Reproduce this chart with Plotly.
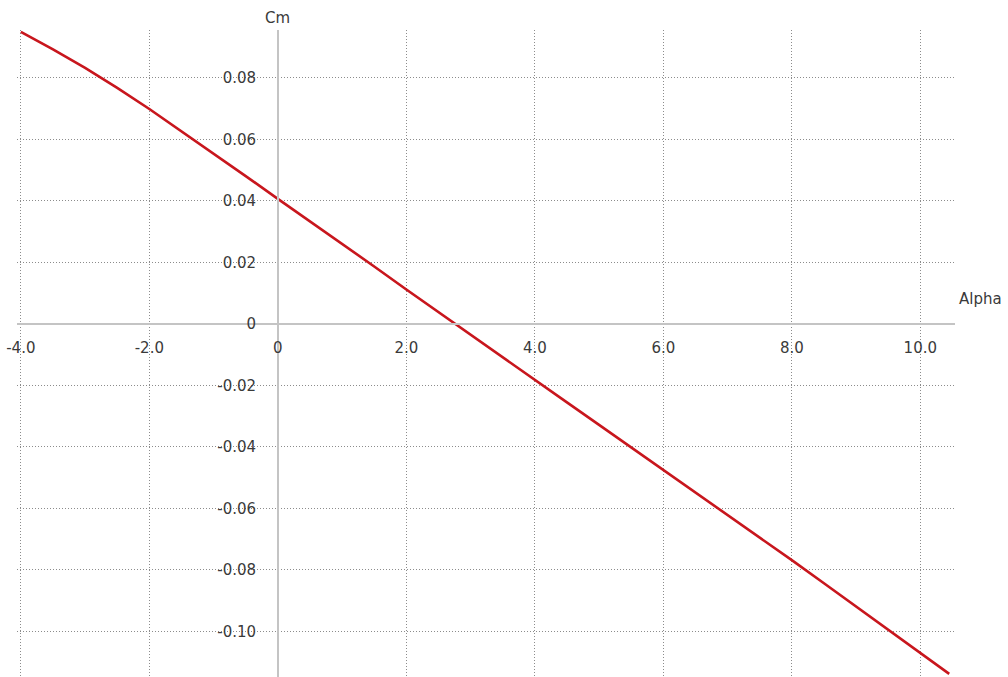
import plotly.graph_objects as go

alpha = [-4.0, -3.5, -3.0, -2.5, -2.0, -1.5, -1.0, -0.5, 0.0, 0.5, 1.0, 1.5, 2.0, 2.5,
         3.0, 3.5, 4.0, 4.5, 5.0, 5.5, 6.0, 6.5, 7.0, 7.5, 8.0, 8.5, 9.0, 9.5, 10.0, 10.45]
cm = [0.0950, 0.0893, 0.0833, 0.0768, 0.0699, 0.0627, 0.0554, 0.0481, 0.0407, 0.0334,
      0.0261, 0.0187, 0.0112, 0.0038, -0.0036, -0.0110, -0.0182, -0.0255, -0.0328, -0.0401,
      -0.0475, -0.0548, -0.0621, -0.0695, -0.0768, -0.0843, -0.0918, -0.0993, -0.1068, -0.1138]

x_ticks = [-4, -2, 0, 2, 4, 6, 8, 10]
x_labels = ["-4.0", "-2.0", "0", "2.0", "4.0", "6.0", "8.0", "10.0"]
y_ticks = [-0.10, -0.08, -0.06, -0.04, -0.02, 0.0, 0.02, 0.04, 0.06, 0.08]
y_labels = ["-0.10", "-0.08", "-0.06", "-0.04", "-0.02", "0", "0.02", "0.04", "0.06", "0.08"]

xr = [-4.06, 10.54]
yr = [-0.1148, 0.0956]

x_pos = (0 - yr[0]) / (yr[1] - yr[0])
y_pos = (0 - xr[0]) / (xr[1] - xr[0])

font = dict(family="DejaVu Sans", size=15, color="#3a3a3a")

fig = go.Figure()
fig.add_trace(go.Scatter(x=alpha, y=cm, mode="lines",
                         line=dict(color="#c8161d", width=2.6), showlegend=False))

fig.update_layout(
    width=1008, height=677,
    margin=dict(l=17, r=53, t=30, b=0, autoexpand=False),
    paper_bgcolor="white", plot_bgcolor="white",
    font=font,
    xaxis=dict(range=xr, tickvals=x_ticks, ticktext=x_labels,
               showgrid=True, gridcolor="#8c8c8c", griddash="1px,2px", gridwidth=1,
               zeroline=False, showline=True, linecolor="#c4c4c4", linewidth=1.5,
               anchor="free", position=x_pos, ticks="", ticklabelstandoff=10,
               ticklabeloverflow="allow", automargin=False, tickfont=font),
    yaxis=dict(range=yr, tickvals=y_ticks, ticktext=y_labels,
               showgrid=True, gridcolor="#8c8c8c", griddash="1px,2px", gridwidth=1,
               zeroline=False, showline=True, linecolor="#c4c4c4", linewidth=1.5,
               anchor="free", position=y_pos, ticks="", ticklabelstandoff=18,
               ticklabeloverflow="allow", automargin=False, tickfont=font),
    annotations=[
        dict(text="Cm", xref="paper", yref="paper", x=y_pos, y=1.0, yshift=1,
             xanchor="center", yanchor="bottom", showarrow=False, font=font),
        dict(text="Alpha", xref="paper", yref="paper", x=1.0, y=x_pos, xshift=2, yshift=14,
             xanchor="left", yanchor="bottom", showarrow=False, font=font),
    ],
)

fig.write_html("out.html", config={"displayModeBar": False},
               post_script="document.body.style.margin='0';document.body.style.overflow='hidden';")
